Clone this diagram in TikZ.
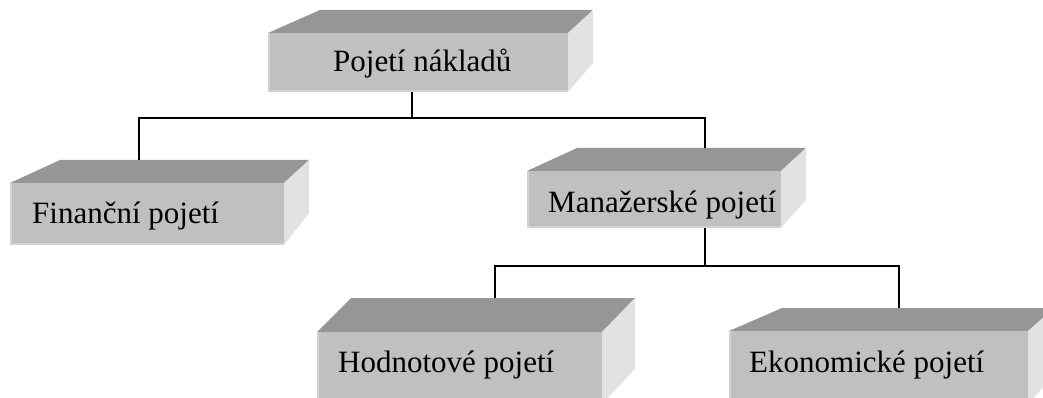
\documentclass[tikz,border=0pt]{standalone}
\usepackage{fontspec}
\setmainfont{Liberation Serif}
\definecolor{frontgray}{RGB}{192,192,192}
\definecolor{topgray}{RGB}{150,150,150}
\definecolor{sidegray}{RGB}{226,226,226}
\definecolor{edgegray}{RGB}{210,210,210}
\tikzset{
  frontface/.style={fill=frontgray, draw=none, inner sep=0pt, outer sep=0pt, anchor=north west},
  topface/.style={fill=topgray},
  sideface/.style={fill=sidegray},
  rim/.style={draw=edgegray, line width=1.6pt},
  conn/.style={draw=black, line width=1.8pt},
  lbl/.style={anchor=base west, inner sep=0pt, font=\fontsize{31}{36}\selectfont}
}
% #1 name, #2..#5 front face (left, top, right, bottom),
% #6 back-left x, #7 back-top y, #8 back-right x, #9 back-right bottom y
\newcommand\blockbox[9]{%
  \fill[topface] (#2,#3) -- (#6,#7) -- (#8,#7) -- (#4,#3) -- cycle;
  \fill[sideface] (#4,#3) -- (#8,#7) -- (#8,#9) -- (#4,#5) -- cycle;
  \node[frontface, minimum width={(#4-#2)*1pt}, minimum height={(#5-#3)*1pt}] (#1) at (#2,#3) {};
  \draw[rim] ([xshift=0.8pt]#1.north west) -- ([xshift=0.8pt,yshift=0.8pt]#1.south west) -- ([yshift=0.8pt]#1.south east);
  \coordinate (#1-top) at (#6,#7);
}
\begin{document}
\begin{tikzpicture}[x=1pt,y=-1pt]
  \useasboundingbox (0,0) rectangle (1043,398);
  \clip (0,0) rectangle (1043,398);

  % boxes
  \blockbox{A}{268}{33}{568}{92}{320}{10}{593}{63}
  \blockbox{B}{10}{183}{284}{245}{60}{160}{309}{213}
  \blockbox{C}{527}{171}{781}{228}{577}{148}{806}{200}
  \blockbox{D}{317}{332}{602}{404}{351}{298}{635}{369}
  \blockbox{E}{729}{331}{1028}{404}{782}{308}{1054}{375}

  % labels
  \node[lbl] (tA) at (333,72) {Pojetí nákladů};
  \node[lbl] (tB) at (32,223) {Finanční pojetí};
  \node[lbl] (tC) at (548,212) {Manažerské pojetí};
  \node[lbl] (tD) at (338,372) {Hodnotové pojetí};
  \node[lbl] (tE) at (749,372) {Ekonomické pojetí};

  % first level of the tree
  \coordinate (busA) at (412,118);
  \coordinate (busAl) at (139,118);
  \coordinate (busAr) at (705,118);
  \draw[conn] (A.south -| busA) -- (busA);
  \draw[conn] (B-top -| busAl) -- (busAl) -- (busAr) -- (C-top -| busAr);

  % second level of the tree
  \coordinate (busC) at (705,266);
  \coordinate (busCl) at (495,266);
  \coordinate (busCr) at (899,266);
  \draw[conn] (C.south -| busC) -- (busC);
  \draw[conn] (D-top -| busCl) -- (busCl) -- (busCr) -- (E-top -| busCr);
\end{tikzpicture}
\end{document}
